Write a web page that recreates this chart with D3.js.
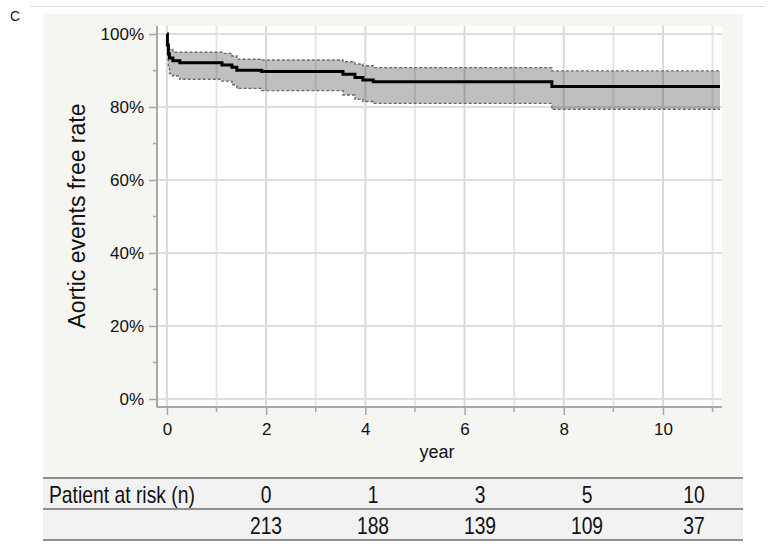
<!DOCTYPE html>
<html>
<head>
<meta charset="utf-8">
<script src="https://cdn.jsdelivr.net/npm/d3@7"></script>
<style>
  body { margin: 0; background: #fff; }
  svg { display: block; font-family: "Liberation Sans", Arial, sans-serif; }
</style>
</head>
<body>
<div id="chart"></div>
<script>
// Kaplan-Meier estimate (step times in years)
var years    = [0, 0.01, 0.03, 0.05, 0.12, 0.26, 1.11, 1.31, 1.41, 1.91, 3.55, 3.79, 3.95, 4.16, 7.76, 11.15];
var survival = [1.0, 0.97, 0.945, 0.934, 0.927, 0.921, 0.915, 0.909, 0.901, 0.897, 0.890, 0.881, 0.874, 0.869, 0.856, 0.856];
var upperCI  = [1.0, 0.958, 0.958, 0.958, 0.950, 0.950, 0.947, 0.940, 0.931, 0.929, 0.924, 0.918, 0.913, 0.908, 0.899, 0.899];
var lowerCI  = [1.0, 0.930, 0.910, 0.892, 0.885, 0.876, 0.871, 0.861, 0.851, 0.845, 0.833, 0.821, 0.815, 0.810, 0.794, 0.794];

var xTicks = [0, 2, 4, 6, 8, 10];
var xMinor = [1, 3, 5, 7, 9, 11];
var yTicks = [0, 0.2, 0.4, 0.6, 0.8, 1.0];
var yMinor = [0.1, 0.3, 0.5, 0.7, 0.9];

var riskLabel = "Patient at risk (n)";
var riskYears = ["0", "1", "3", "5", "10"];
var riskCounts = ["213", "188", "139", "109", "37"];

var svgWidth = 775;
var svgHeight = 549;

var plot = { left: 157, right: 722, top: 26, bottom: 407 };

var svg = d3.select("#chart")
  .append("svg")
  .attr("width", svgWidth)
  .attr("height", svgHeight);

// top rule and panel letter
svg.append("line")
  .attr("x1", 30).attr("x2", 765).attr("y1", 6.5).attr("y2", 6.5)
  .attr("stroke", "#dcdcdc").attr("stroke-width", 1);

svg.append("text")
  .attr("x", 10).attr("y", 21)
  .attr("font-size", "14px").attr("fill", "#222")
  .text("C");

// panel background
svg.append("rect")
  .attr("x", 43).attr("y", 14).attr("width", 700).attr("height", 464)
  .attr("fill", "#f5f5f1");

svg.append("rect")
  .attr("x", plot.left).attr("y", plot.top)
  .attr("width", plot.right - plot.left).attr("height", plot.bottom - plot.top)
  .attr("fill", "#fff");

var x = d3.scaleLinear().domain([-0.2, 11.19]).range([plot.left, plot.right]);
var y = d3.scaleLinear().domain([-0.022, 1.022]).range([plot.bottom, plot.top]);

// grid
var grid = svg.append("g");
grid.selectAll(".vg")
  .data(xTicks.concat(xMinor))
  .enter().append("line")
  .attr("x1", d => x(d)).attr("x2", d => x(d))
  .attr("y1", plot.top).attr("y2", plot.bottom)
  .attr("stroke", d => d % 2 === 0 ? "#dadada" : "#e6e6e6")
  .attr("stroke-width", 2);

grid.selectAll(".hg")
  .data(yTicks)
  .enter().append("line")
  .attr("x1", plot.left).attr("x2", plot.right)
  .attr("y1", d => y(d)).attr("y2", d => y(d))
  .attr("stroke", "#dedede")
  .attr("stroke-width", 2);

// confidence band
var idx = d3.range(1, years.length);

var band = d3.area()
  .curve(d3.curveStepAfter)
  .x(i => x(years[i]))
  .y0(i => y(lowerCI[i]))
  .y1(i => y(upperCI[i]));

svg.append("path")
  .datum(idx)
  .attr("d", band)
  .attr("fill", "#000")
  .attr("fill-opacity", 0.25);

["upper", "lower"].forEach(function(k) {
  var arr = k === "upper" ? upperCI : lowerCI;
  svg.append("path")
    .datum(idx)
    .attr("d", d3.line().curve(d3.curveStepAfter)
      .x(i => x(years[i]))
      .y(i => y(arr[i])))
    .attr("fill", "none")
    .attr("stroke", "#6a6a6a")
    .attr("stroke-width", 1.4)
    .attr("stroke-dasharray", "3,2");
});

// survival curve
svg.append("path")
  .datum(d3.range(years.length))
  .attr("d", d3.line().curve(d3.curveStepAfter)
    .x(i => x(years[i]))
    .y(i => y(survival[i])))
  .attr("fill", "none")
  .attr("stroke", "#000")
  .attr("stroke-width", 3);

// axes
var bottomAxis = d3.axisBottom(x)
  .tickValues(xTicks)
  .tickSize(8)
  .tickPadding(8)
  .tickFormat(d3.format("d"));

var leftAxis = d3.axisLeft(y)
  .tickValues(yTicks)
  .tickSize(8)
  .tickPadding(5)
  .tickFormat(d3.format(".0%"));

var xg = svg.append("g")
  .attr("transform", `translate(0, ${plot.bottom})`)
  .call(bottomAxis);

var yg = svg.append("g")
  .attr("transform", `translate(${plot.left}, 0)`)
  .call(leftAxis);

xg.selectAll(".tick.minor")
  .data(xMinor)
  .enter().append("g")
  .attr("class", "tick minor")
  .attr("transform", d => `translate(${x(d)},0)`)
  .append("line").attr("y2", 5);

yg.selectAll(".tick.minor")
  .data(yMinor)
  .enter().append("g")
  .attr("class", "tick minor")
  .attr("transform", d => `translate(0,${y(d)})`)
  .append("line").attr("x2", -4);

[xg, yg].forEach(function(g) {
  g.select(".domain").attr("stroke", "#a8a8a8").attr("stroke-width", 2);
  g.selectAll(".tick line").attr("stroke", "#a8a8a8").attr("stroke-width", 1.5);
  g.selectAll(".tick text")
    .attr("font-family", "Liberation Sans, Arial, sans-serif")
    .attr("font-size", "17px")
    .attr("fill", "#111");
});
xg.select(".domain").attr("d", `M${plot.left},0H${plot.right}`);
yg.select(".domain").attr("d", `M0,${plot.top}V${plot.bottom}`);

// axis titles
svg.append("text")
  .attr("transform", "translate(85, 216) rotate(-90)")
  .attr("text-anchor", "middle")
  .attr("font-size", "23px")
  .attr("fill", "#111")
  .text("Aortic events free rate");

svg.append("text")
  .attr("x", 437).attr("y", 458)
  .attr("text-anchor", "middle")
  .attr("font-size", "18px")
  .attr("fill", "#111")
  .text("year");

// at-risk table
var table = svg.append("g");
table.append("rect")
  .attr("x", 43).attr("y", 478).attr("width", 700).attr("height", 62)
  .attr("fill", "#f2f2f2");

[478, 509, 540].forEach(function(ly) {
  table.append("line")
    .attr("x1", 43).attr("x2", 743).attr("y1", ly).attr("y2", ly)
    .attr("stroke", "#6e6e6e").attr("stroke-width", 1.6);
});

var colX = d3.scalePoint().domain(riskYears).range([266, 694]);

function condensed(sel, px, py) {
  return sel.attr("transform", `translate(${px},${py}) scale(0.84,1)`);
}

condensed(table.append("text"), 49, 503)
  .attr("font-size", "23px").attr("fill", "#111")
  .text(riskLabel);

riskYears.forEach(function(yr, i) {
  condensed(table.append("text"), colX(yr), 503)
    .attr("text-anchor", "middle")
    .attr("font-size", "23px").attr("fill", "#111")
    .text(yr);
  condensed(table.append("text"), colX(yr), 534)
    .attr("text-anchor", "middle")
    .attr("font-size", "23px").attr("fill", "#111")
    .text(riskCounts[i]);
});
</script>
</body>
</html>
